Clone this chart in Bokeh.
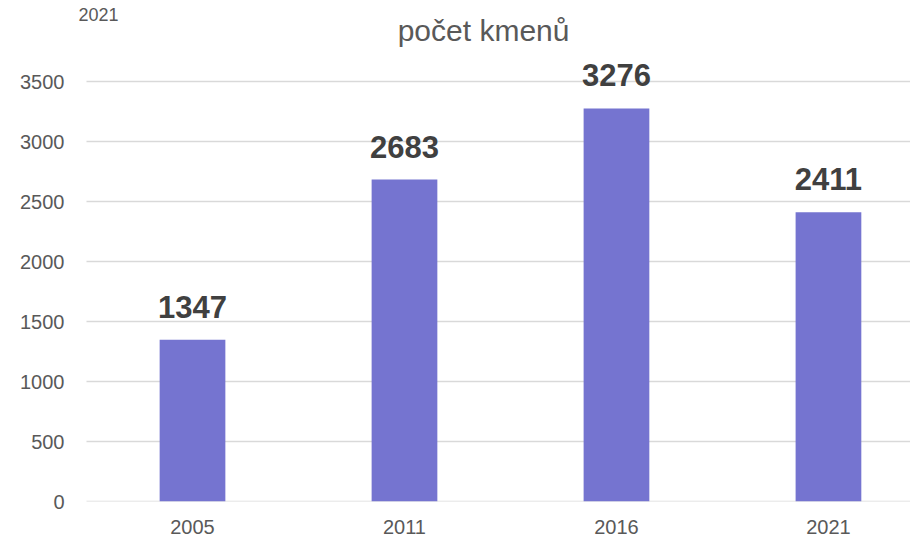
from bokeh.plotting import figure
from bokeh.models import Range1d, FixedTicker, Label, ColumnDataSource
from bokeh.core.properties import value
from bokeh.embed import file_html
from bokeh.resources import INLINE

years = ["2005", "2011", "2016", "2021"]
counts = [1347, 2683, 3276, 2411]
y_ticks = [0, 500, 1000, 1500, 2000, 2500, 3000, 3500]
title_text = "počet kmenů"
corner_text = "2021"

FONT = "Liberation Sans, Arial, sans-serif"
xs = list(range(len(years)))
src = ColumnDataSource(dict(x=xs, y=counts, lbl=[str(c) for c in counts]))

X0, X1 = -0.5755, 3.387
p = figure(width=910, height=537, output_backend="svg", toolbar_location=None,
           x_range=Range1d(X0, X1), y_range=Range1d(0, 4175),
           min_border_left=70, min_border_right=0, min_border_top=0, min_border_bottom=36)
p.outline_line_color = None
p.background_fill_color = "white"
p.border_fill_color = "white"

# horizontal gridlines starting where the plot area begins
p.segment(x0=[-0.5] * len(y_ticks), x1=[X1] * len(y_ticks), y0=y_ticks, y1=y_ticks,
          line_color="#D9D9D9", line_width=1.5)

p.vbar(x="x", top="y", width=0.31, source=src, fill_color="#7574D0", line_color=None)
p.text(x="x", y="y", text="lbl", source=src, text_align="center", text_baseline="alphabetic",
       y_offset=-33, text_font=value(FONT), text_font_size="31px", text_font_style="bold",
       text_color="#404040")

p.xaxis.ticker = FixedTicker(ticks=xs)
p.xaxis.major_label_overrides = {i: y for i, y in enumerate(years)}
p.yaxis.ticker = FixedTicker(ticks=y_ticks)
for ax in (p.xaxis, p.yaxis):
    ax.axis_line_color = None
    ax.major_tick_line_color = None
    ax.minor_tick_line_color = None
    ax.major_label_text_font = FONT
    ax.major_label_text_font_size = "20px"
    ax.major_label_text_color = "#595959"
p.yaxis.major_label_standoff = 0
p.xaxis.major_label_standoff = 12
p.xgrid.grid_line_color = None
p.ygrid.grid_line_color = None

p.add_layout(Label(x=1.373, y=3925, text=title_text, text_align="center", text_baseline="middle",
                   text_font=FONT, text_font_size="30px", text_color="#595959"))
p.add_layout(Label(x=8, y=487, x_units="screen", y_units="screen", text=corner_text,
                   text_align="left", text_baseline="middle",
                   text_font=FONT, text_font_size="18px", text_color="#595959"))

open("out.html", "w").write(file_html(p, INLINE))
